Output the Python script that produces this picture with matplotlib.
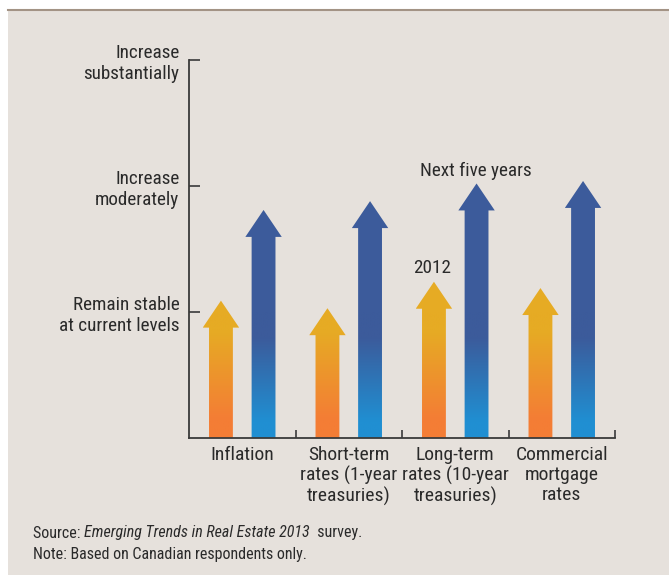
import numpy as np
import matplotlib
matplotlib.use("Agg")
import matplotlib.pyplot as plt
from matplotlib.patches import Polygon, Rectangle
from matplotlib.lines import Line2D
from matplotlib.colors import LinearSegmentedColormap

plt.rcParams['font.family'] = ['Roboto Condensed', 'DejaVu Sans']

# data (0 = baseline, 1 = remain stable, 2 = increase moderately, 3 = increase substantially)
categories = ['Inflation', 'Short-term\nrates (1-year\ntreasuries)',
              'Long-term\nrates (10-year\ntreasuries)', 'Commercial\nmortgage\nrates']
values_2012 = [1.09, 1.03, 1.24, 1.19]
values_next5 = [1.81, 1.88, 2.02, 2.04]
level_labels = ['Remain stable\nat current levels', 'Increase\nmoderately', 'Increase\nsubstantially']

bg = '#e6e1dc'
txt_col = '#2a2a2a'
orange_cmap = LinearSegmentedColormap.from_list(
    'org', [(0, '#f47d35'), (0.15, '#f47d35'), (0.85, '#e6ab24'), (1, '#e6ab24')])
blue_cmap = LinearSegmentedColormap.from_list(
    'blu', [(0, '#208fd2'), (0.13, '#208fd2'), (0.80, '#3c5b9b'), (1, '#3c5b9b')])

W, H = 669, 575
fig = plt.figure(figsize=(W / 100, H / 100), dpi=100)
fig.patch.set_facecolor('white')
fig.patches.append(Rectangle((8 / W, 0), 1, (H - 10) / H, transform=fig.transFigure,
                             facecolor=bg, edgecolor='none', zorder=-10))
fig.lines.append(Line2D([8 / W, 1], [(H - 10) / H] * 2, transform=fig.transFigure,
                        color='#a39385', lw=1.5, zorder=-9))

ax = fig.add_axes([189 / W, (H - 438) / H, (615 - 189) / W, (438 - 60) / H])
ax.set_facecolor('none')
for s in ['top', 'right']:
    ax.spines[s].set_visible(False)
for s in ['left', 'bottom']:
    ax.spines[s].set_color('#3a3a3a')
    ax.spines[s].set_linewidth(1.3)

ax.set_yticks([1, 2, 3])
ax.set_yticklabels(level_labels, fontsize=13.8, color=txt_col, linespacing=1.2)
ax.tick_params(axis='y', direction='in', length=8, width=1.2, color='#3a3a3a', pad=7)
ax.set_xticks([1, 2, 3, 4])
ax.set_xticklabels([])
ax.tick_params(axis='x', which='major', direction='in', length=6, width=1.2, color='#3a3a3a')
ax.set_xticks([0.5, 1.5, 2.5, 3.5], minor=True)
ax.set_xticklabels(categories, minor=True, fontsize=14, color=txt_col, linespacing=1.12)
ax.tick_params(axis='x', which='minor', length=0, pad=6)

half_w = 0.112
head_w = 0.171
head_h = 0.214


def draw_arrow(xc, tip, cmap):
    base = tip - head_h
    pts = [(xc - half_w, 0), (xc + half_w, 0), (xc + half_w, base), (xc + head_w, base),
           (xc, tip), (xc - head_w, base), (xc - half_w, base)]
    poly = Polygon(pts, closed=True, facecolor='none', edgecolor='none')
    ax.add_patch(poly)
    grad = np.linspace(0, 1, 256).reshape(-1, 1)
    im = ax.imshow(grad, cmap=cmap, origin='lower', aspect='auto',
                   extent=[xc - head_w, xc + head_w, 0, 1.0], interpolation='bilinear', zorder=2)
    # solid top colour above the gradient zone
    top = ax.imshow(np.ones((2, 1)), cmap=cmap, vmin=0, vmax=1, origin='lower', aspect='auto',
                    extent=[xc - head_w, xc + head_w, 0.999, tip + 0.01], zorder=2)
    im.set_clip_path(poly)
    top.set_clip_path(poly)


for i in range(len(categories)):
    draw_arrow(i + 0.3, values_2012[i], orange_cmap)
    draw_arrow(i + 0.7, values_next5[i], blue_cmap)

ax.set_xlim(0, 4)
ax.set_ylim(0, 3)

ax.text(2.28, values_2012[2] + 0.04, '2012', ha='center', va='bottom', fontsize=13.8, color=txt_col)
ax.text(2.69, values_next5[2] + 0.03, 'Next five years', ha='center', va='bottom',
        fontsize=13.8, color=txt_col)

# footnotes
fig.canvas.draw()
renderer = fig.canvas.get_renderer()
x0 = 33 / W
y_src = (H - 533) / H
parts = [('Source: ', 'normal'), ('Emerging Trends in Real Estate 2013', 'italic'), ('  survey.', 'normal')]
x = x0
for txt, style in parts:
    t = fig.text(x, y_src, txt, fontsize=11.5, style=style, color=txt_col, va='center', ha='left')
    bb = t.get_window_extent(renderer)
    x += bb.width / W
fig.text(x0, (H - 555) / H, 'Note: Based on Canadian respondents only.', fontsize=11.5,
         color=txt_col, va='center', ha='left')

fig.savefig('out.png', dpi=100, facecolor=fig.get_facecolor())
